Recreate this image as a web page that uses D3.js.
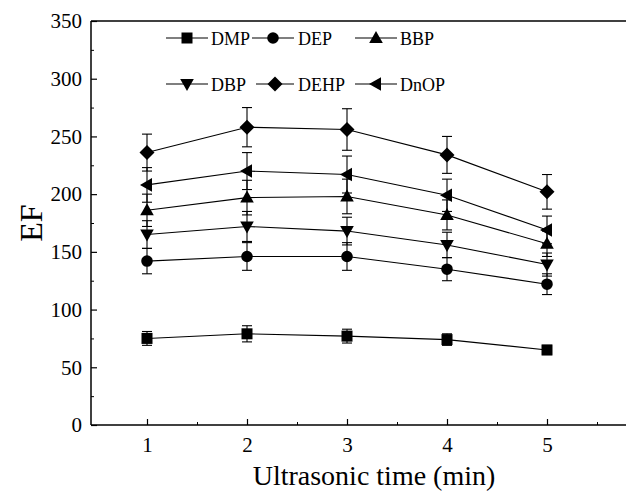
<!DOCTYPE html>
<html><head><meta charset="utf-8">
<script src="https://cdn.jsdelivr.net/npm/d3@7"></script>
<style>body{margin:0;background:#fff}svg{display:block}</style>
</head><body>
<script>
const times = [1, 2, 3, 4, 5];
const seriesNames = ["DMP", "DEP", "BBP", "DBP", "DEHP", "DnOP"];
const DMP  = [75, 79, 77, 74, 65];
const DEP  = [142, 146, 146, 135, 122];
const BBP  = [186, 197, 198, 182, 157];
const DBP  = [165, 172, 168, 156, 139];
const DEHP = [236, 258, 256, 234, 202];
const DnOP = [208, 220, 217, 199, 169];
const DMP_err  = [6, 7, 6, 5, 4];
const DEP_err  = [11, 12, 12, 10, 9];
const BBP_err  = [14, 15, 15, 13, 11];
const DBP_err  = [12, 13, 12, 11, 10];
const DEHP_err = [16, 17, 18, 16, 15];
const DnOP_err = [15, 16, 16, 14, 12];
const yTicks = [0, 50, 100, 150, 200, 250, 300, 350];
const xTicks = [1, 2, 3, 4, 5];
const xTitle = "Ultrasonic time (min)";
const yTitle = "EF";

(function () {
const series = [
  {name: "DMP", v: DMP, e: DMP_err, sym: "square"},
  {name: "DEP", v: DEP, e: DEP_err, sym: "circle"},
  {name: "BBP", v: BBP, e: BBP_err, sym: "up"},
  {name: "DBP", v: DBP, e: DBP_err, sym: "down"},
  {name: "DEHP", v: DEHP, e: DEHP_err, sym: "diamond"},
  {name: "DnOP", v: DnOP, e: DnOP_err, sym: "left"}
];

const W = 626, H = 498;
const svg = d3.select("body").append("svg").attr("width", W).attr("height", H);
const mLeft = 91, mTop = 21, mBottom = 425;
const x = d3.scaleLinear().domain([1, 5]).range([147, 547]);
const y = d3.scaleLinear().domain([0, 350]).range([mBottom, mTop]);
const font = "'Liberation Serif', 'Times New Roman', serif";

function symPath(sym) {
  switch (sym) {
    case "square": return "M-5.5,-5.5H5.5V5.5H-5.5Z";
    case "circle": return d3.symbol(d3.symbolCircle, 105)();
    case "up": return "M0,-7L6.8,5L-6.8,5Z";
    case "down": return "M0,7L6.8,-5L-6.8,-5Z";
    case "diamond": return "M0,-7.5L7.5,0L0,7.5L-7.5,0Z";
    case "left": return "M-7,0L5,-6.8L5,6.8Z";
  }
}

const g = svg.append("g");
g.append("line").attr("x1", mLeft).attr("x2", W).attr("y1", mBottom).attr("y2", mBottom).attr("stroke", "#000").attr("stroke-width", 1.5);
g.append("line").attr("x1", mLeft).attr("x2", W).attr("y1", mTop).attr("y2", mTop).attr("stroke", "#000").attr("stroke-width", 1.5);
g.append("line").attr("x1", mLeft).attr("x2", mLeft).attr("y1", mTop).attr("y2", mBottom).attr("stroke", "#000").attr("stroke-width", 1.5);

const xAxis = d3.axisBottom(x).tickValues(xTicks).tickSize(-6).tickPadding(12).tickFormat(d3.format("d"));
const xa = svg.append("g").attr("transform", `translate(0,${mBottom})`).call(xAxis);
xa.select(".domain").remove();
xa.selectAll("line").attr("stroke-width", 1.2);
xa.selectAll("text").attr("font-family", font).attr("font-size", 21).attr("fill", "#000");
const xMinor = svg.append("g").attr("transform", `translate(0,${mBottom})`)
  .call(d3.axisBottom(x).tickValues([1.5, 2.5, 3.5, 4.5, 5.5]).tickSize(-3).tickFormat(""));
xMinor.select(".domain").remove();

const yAxis = d3.axisLeft(y).tickValues(yTicks).tickSize(-6).tickPadding(9);
const ya = svg.append("g").attr("transform", `translate(${mLeft},0)`).call(yAxis);
ya.select(".domain").remove();
ya.selectAll("line").attr("stroke-width", 1.2);
ya.selectAll("text").attr("font-family", font).attr("font-size", 21).attr("fill", "#000");
const yMinor = svg.append("g").attr("transform", `translate(${mLeft},0)`)
  .call(d3.axisLeft(y).tickValues([25, 75, 125, 175, 225, 275, 325]).tickSize(-3).tickFormat(""));
yMinor.select(".domain").remove();

svg.append("text").attr("x", 374).attr("y", 485).attr("text-anchor", "middle")
  .attr("font-family", font).attr("font-size", 28).text(xTitle);
svg.append("text").attr("transform", `translate(42,${(mTop + mBottom) / 2}) rotate(-90)`).attr("text-anchor", "middle")
  .attr("font-family", font).attr("font-size", 32).text(yTitle);

const line = d3.line().x((d, i) => x(times[i])).y(d => y(d));
series.forEach(s => {
  const sg = svg.append("g");
  s.v.forEach((v, i) => {
    const cx = x(times[i]);
    sg.append("line").attr("x1", cx).attr("x2", cx).attr("y1", y(v - s.e[i])).attr("y2", y(v + s.e[i])).attr("stroke", "#000").attr("stroke-width", 1.1);
    [v - s.e[i], v + s.e[i]].forEach(t => sg.append("line").attr("x1", cx - 5).attr("x2", cx + 5).attr("y1", y(t)).attr("y2", y(t)).attr("stroke", "#000").attr("stroke-width", 1.1));
  });
  sg.append("path").attr("d", line(s.v)).attr("fill", "none").attr("stroke", "#000").attr("stroke-width", 1.1);
  s.v.forEach((v, i) => sg.append("path").attr("d", symPath(s.sym)).attr("transform", `translate(${x(times[i])},${y(v)})`).attr("fill", "#000"));
});

// legend positions (pixels)
const legendPos = [
  {name: "DMP", x0: 166, x1: 208, tx: 211, yy: 38},
  {name: "DEP", x0: 252, x1: 294, tx: 298, yy: 38},
  {name: "BBP", x0: 355, x1: 397, tx: 400, yy: 38},
  {name: "DBP", x0: 166, x1: 208, tx: 211, yy: 84},
  {name: "DEHP", x0: 256, x1: 294, tx: 298, yy: 84},
  {name: "DnOP", x0: 355, x1: 397, tx: 400, yy: 84}
];
legendPos.forEach(l => {
  const s = series.find(d => d.name === l.name);
  const lg = svg.append("g");
  lg.append("line").attr("x1", l.x0).attr("x2", l.x1).attr("y1", l.yy).attr("y2", l.yy).attr("stroke", "#000").attr("stroke-width", 1.1);
  lg.append("path").attr("d", symPath(s.sym)).attr("transform", `translate(${(l.x0 + l.x1) / 2},${l.yy})`).attr("fill", "#000");
  lg.append("text").attr("x", l.tx).attr("y", l.yy + 6.5).attr("font-family", font).attr("font-size", 18).text(l.name);
});
})();
</script>
</body></html>
